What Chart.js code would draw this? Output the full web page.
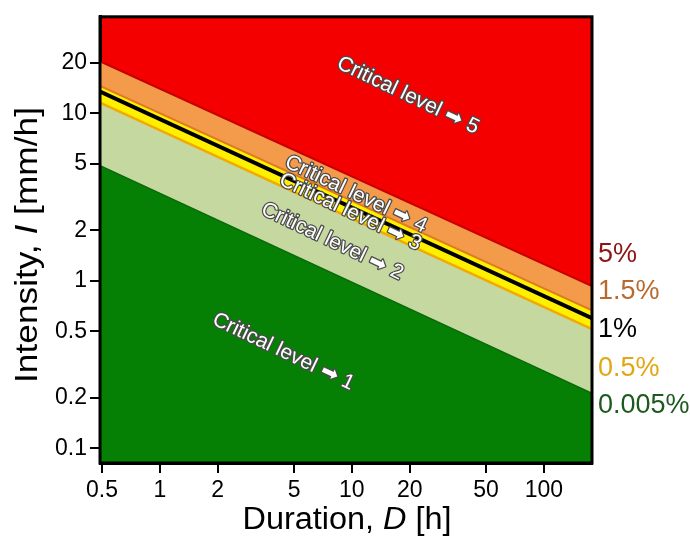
<!DOCTYPE html>
<html lang="en">
<head>
    <meta charset="UTF-8">
    <title>Critical rainfall levels</title>
    <script src="https://cdn.jsdelivr.net/npm/chart.js@4.4.0/dist/chart.umd.min.js"></script>
    <style>
        body { margin: 0; background: #ffffff; }
        #wrap { width: 691px; height: 539px; }
    </style>
</head>
<body>
    <div id="wrap"><canvas id="chart" width="691" height="539"></canvas></div>

    <script>
        // axis ticks
        const xTicks = [0.5, 1, 2, 5, 10, 20, 50, 100];
        const yTicks = [0.1, 0.2, 0.5, 1, 2, 5, 10, 20];

        // threshold lines, intensity (mm/h) read at both ends of the duration axis
        const durationEnds = [0.488, 178];
        const line005 = [4.88, 0.213];
        const line05 = [11.6, 0.515];
        const line1 = [13.5, 0.598];
        const line15 = [14.6, 0.667];
        const line5 = [20.5, 0.93];

        // rotated "Critical level" labels (centre, in data units)
        const levelNames = ['1', '2', '3', '4', '5'];
        const levelD = [4.4, 7.9, 9.8, 10.5, 19.6];
        const levelI = [0.377, 1.72, 2.58, 3.29, 12.8];

        // percentage labels on the right side
        const pctText = ['5%', '1.5%', '1%', '0.5%', '0.005%'];
        const pctI = [1.44, 0.862, 0.515, 0.30, 0.179];
        const pctColors = ['#8c1515', '#b86a2c', '#000000', '#e2a712', '#1d5a1d'];

        const pts = arr => arr.map((v, i) => ({ x: durationEnds[i], y: v }));

        const bandsPlugin = {
            id: 'bands',
            beforeDraw(chart) {
                const { ctx, chartArea: a } = chart;
                ctx.save();
                ctx.fillStyle = '#f40000';
                ctx.fillRect(a.left, a.top, a.right - a.left, a.bottom - a.top);
                ctx.restore();
            },
            afterDatasetsDraw(chart) {
                const { ctx, scales } = chart;
                ctx.save();
                ctx.font = '21px "Liberation Sans", Arial, sans-serif';
                ctx.textAlign = 'center';
                ctx.textBaseline = 'middle';
                ctx.lineJoin = 'round';
                levelNames.forEach((n, i) => {
                    const px = scales.x.getPixelForValue(levelD[i]);
                    const py = scales.y.getPixelForValue(levelI[i]);
                    ctx.save();
                    ctx.translate(px, py);
                    ctx.rotate(25.5 * Math.PI / 180);
                    const txt = 'Critical level \u27A1 ' + n;
                    ctx.lineWidth = 2.5;
                    ctx.strokeStyle = '#4a4a4a';
                    ctx.strokeText(txt, 0, 0);
                    ctx.fillStyle = '#ffffff';
                    ctx.fillText(txt, 0, 0);
                    ctx.restore();
                });
                ctx.restore();
            },
            afterDraw(chart) {
                const { ctx, chartArea: a, scales } = chart;
                ctx.save();
                // frame
                ctx.strokeStyle = '#000';
                ctx.lineWidth = 3;
                ctx.strokeRect(a.left, a.top, a.right - a.left, a.bottom - a.top);

                // percentage labels
                ctx.font = '27px "Liberation Sans", Arial, sans-serif';
                ctx.textAlign = 'left';
                ctx.textBaseline = 'middle';
                pctText.forEach((t, i) => {
                    ctx.fillStyle = pctColors[i];
                    ctx.fillText(t, a.right + 6, scales.y.getPixelForValue(pctI[i]));
                });

                // axis titles with italic symbols, stretched to the reference length
                const drawMixed = (parts, cx, cy, target) => {
                    let w = 0;
                    parts.forEach(p => { ctx.font = p[1]; w += ctx.measureText(p[0]).width; });
                    ctx.save();
                    ctx.translate(cx, cy);
                    ctx.scale(target / w, 1);
                    let x = -w / 2;
                    parts.forEach(p => {
                        ctx.font = p[1];
                        ctx.fillText(p[0], x, 0);
                        x += ctx.measureText(p[0]).width;
                    });
                    ctx.restore();
                };
                const reg = '31px "Liberation Sans", Arial, sans-serif';
                const ita = 'italic 31px "Liberation Sans", Arial, sans-serif';
                ctx.fillStyle = '#000';
                ctx.textAlign = 'left';
                ctx.textBaseline = 'middle';
                drawMixed([['Duration, ', reg], ['D', ita], [' [h]', reg]], 347, 520, 209);
                ctx.translate(28, 245);
                ctx.rotate(-Math.PI / 2);
                drawMixed([['Intensity, ', reg], ['I', ita], [' [mm/h]', reg]], 0, 0, 276);
                ctx.restore();
            }
        };

        const tickFont = { family: '"Liberation Sans", Arial, sans-serif', size: 23 };

        new Chart(document.getElementById('chart'), {
            type: 'line',
            data: {
                datasets: [
                    { label: '0.005%', data: pts(line005), borderColor: '#0b6b0b', borderWidth: 1.5,
                      backgroundColor: '#058005', fill: 'start' },
                    { label: '0.5%', data: pts(line05), borderColor: '#f2a900', borderWidth: 2.5,
                      backgroundColor: '#c4d8a0', fill: '-1' },
                    { label: '1%', data: pts(line1), borderColor: '#000000', borderWidth: 4,
                      fill: false },
                    { label: '1.5%', data: pts(line15), borderColor: '#e07a20', borderWidth: 2,
                      backgroundColor: '#fff000', fill: 1 },
                    { label: '5%', data: pts(line5), borderColor: '#c80000', borderWidth: 2,
                      backgroundColor: '#f39a4b', fill: '-1' }
                ]
            },
            options: {
                responsive: false,
                animation: false,
                layout: { padding: { top: 13, right: 99, left: 0, bottom: 0 } },
                elements: { point: { radius: 0 }, line: { tension: 0 } },
                plugins: {
                    legend: { display: false },
                    tooltip: { enabled: false },
                    filler: { drawTime: 'beforeDatasetsDraw' }
                },
                scales: {
                    x: {
                        type: 'logarithmic',
                        min: 0.488,
                        max: 178,
                        afterBuildTicks: s => { s.ticks = xTicks.map(v => ({ value: v })); },
                        afterFit: s => { s.height = 76; },
                        ticks: { callback: v => String(v), font: tickFont, color: '#000',
                                 padding: 4, autoSkip: false, maxRotation: 0 },
                        grid: { drawOnChartArea: false, drawTicks: true, tickLength: 10,
                                color: '#000', lineWidth: 2 },
                        border: { display: true, color: '#000', width: 3 }
                    },
                    y: {
                        type: 'logarithmic',
                        min: 0.0816,
                        max: 37.8,
                        afterBuildTicks: s => { s.ticks = yTicks.map(v => ({ value: v })); },
                        afterFit: s => { s.width = 100; },
                        ticks: { callback: v => String(v), font: tickFont, color: '#000',
                                 padding: 3, autoSkip: false },
                        grid: { drawOnChartArea: false, drawTicks: true, tickLength: 10,
                                color: '#000', lineWidth: 2 },
                        border: { display: true, color: '#000', width: 3 }
                    }
                }
            },
            plugins: [bandsPlugin]
        });
    </script>
</body>
</html>
